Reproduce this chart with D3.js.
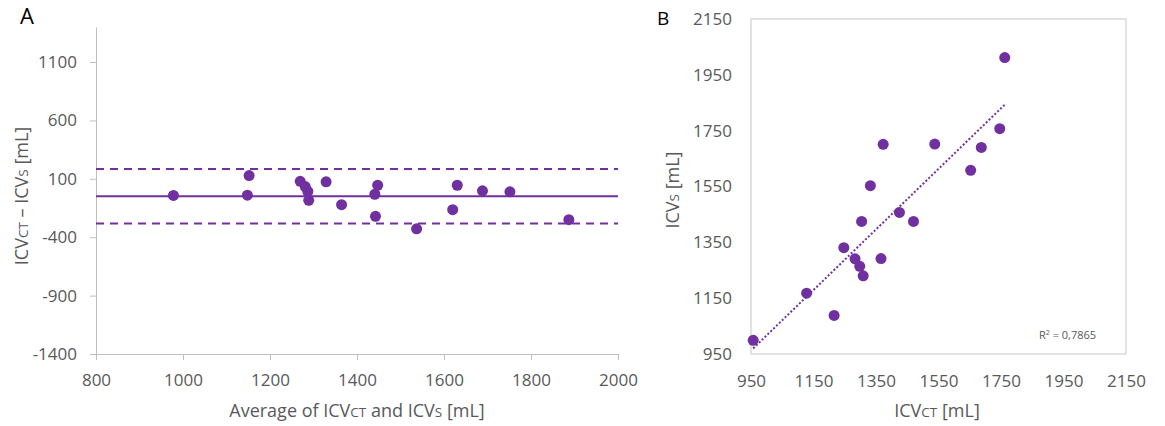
<!DOCTYPE html>
<html>
<head>
<meta charset="utf-8">
<script src="https://cdnjs.cloudflare.com/ajax/libs/d3/7.8.5/d3.min.js"></script>
<style>
  body { margin: 0; background: #fff; }
  svg text { font-family: "Open Sans", sans-serif; fill: #595959; }
  .axis path, .axis line { stroke: #bfbfbf; }
</style>
</head>
<body>
<div id="chart"></div>
<script>
// ICV per subject, CT method and S method (mL)
let ctVolume = [1762, 1746, 1687, 1653, 1538, 1373, 1332, 1425, 1304,
                1470, 1247, 1283, 1366, 1298, 1309, 1128, 1216, 957];
let sVolume  = [2012, 1757, 1690, 1608, 1702, 1701, 1553, 1457, 1425,
                1425, 1331, 1291, 1292, 1264, 1230, 1168, 1088, 999];

// Bland-Altman reference lines (mL)
let meanDiff = -49;
let upperLoA = 185;
let lowerLoA = -283;

// tick labels
let baXTicks = [800, 1000, 1200, 1400, 1600, 1800, 2000];
let baYTicks = [-1400, -900, -400, 100, 600, 1100];
let corrTicks = [950, 1150, 1350, 1550, 1750, 1950, 2150];
let rSquaredText = " = 0,7865";

let purple = "#7030A0";
let plain = d => String(d);

let svg = d3.select("#chart").append("svg")
    .attr("width", 1165)
    .attr("height", 426);

svg.append("rect").attr("width", 1165).attr("height", 426).attr("fill", "#fff");

// small-caps style title helper: parts = [[text, small?], ...]
function addTitle(sel, parts) {
    parts.forEach(p => {
        sel.append("tspan")
            .style("font-size", p[1] ? "13.5px" : "18px")
            .text(p[0]);
    });
}

//---------- Panel A : Bland-Altman ----------
let baData = ctVolume.map((c, i) => ({
    avg: (c + sVolume[i]) / 2,
    diff: c - sVolume[i]
}));

let xA = d3.scaleLinear().domain([800, 2000]).range([96, 618]);
let yA = d3.scaleLinear().domain([-1400, 1400]).range([354, 27]);

svg.append("g")
    .attr("class", "axis")
    .attr("transform", "translate(0,354)")
    .call(d3.axisBottom(xA).tickValues(baXTicks).tickFormat(plain)
        .tickSize(6).tickSizeOuter(0).tickPadding(14))
    .call(g => g.selectAll("text").style("font-size", "17px"));

svg.append("g")
    .attr("class", "axis")
    .attr("transform", "translate(96,0)")
    .call(d3.axisLeft(yA).tickValues(baYTicks).tickFormat(plain)
        .tickSize(6).tickSizeOuter(0).tickPadding(13))
    .call(g => g.selectAll("text").style("font-size", "17px"));

// mean and limits of agreement
svg.append("line")
    .attr("x1", xA(800)).attr("x2", xA(2000))
    .attr("y1", yA(meanDiff)).attr("y2", yA(meanDiff))
    .attr("stroke", purple).attr("stroke-width", 2);

[upperLoA, lowerLoA].forEach(v => {
    svg.append("line")
        .attr("x1", xA(800)).attr("x2", xA(2000))
        .attr("y1", yA(v)).attr("y2", yA(v))
        .attr("stroke", purple).attr("stroke-width", 2)
        .attr("stroke-dasharray", "8,6");
});

svg.append("g").selectAll("circle")
    .data(baData)
    .enter()
    .append("circle")
    .attr("cx", d => xA(d.avg))
    .attr("cy", d => yA(d.diff))
    .attr("r", 5.5)
    .attr("fill", purple);

// axis titles
let titleA = svg.append("text")
    .attr("x", 357).attr("y", 417)
    .attr("text-anchor", "middle");
addTitle(titleA, [["Average of ICV"], ["CT", 1], [" and ICV"], ["S", 1], [" [mL]"]]);

let yTitleA = svg.append("text")
    .attr("transform", "translate(28,196) rotate(-90)")
    .attr("text-anchor", "middle");
addTitle(yTitleA, [["ICV"], ["CT", 1], [" \u2013 ICV"], ["S", 1], [" [mL]"]]);

svg.append("text")
    .attr("x", 20).attr("y", 24)
    .style("font-size", "22px").style("fill", "#000")
    .text("A");

//---------- Panel B : correlation ----------
let xB = d3.scaleLinear().domain([950, 2150]).range([751, 1126]);
let yB = d3.scaleLinear().domain([950, 2150]).range([354, 19]);

svg.append("rect")
    .attr("x", 751).attr("y", 19)
    .attr("width", 375).attr("height", 335)
    .attr("fill", "none")
    .attr("stroke", "#d9d9d9")
    .attr("stroke-width", 1.5);

svg.append("g")
    .attr("class", "axis")
    .attr("transform", "translate(0,354)")
    .call(d3.axisBottom(xB).tickValues(corrTicks).tickFormat(plain).tickSize(0).tickPadding(21))
    .call(g => g.select(".domain").remove())
    .call(g => g.selectAll("text").style("font-size", "17px"));

svg.append("g")
    .attr("class", "axis")
    .attr("transform", "translate(751,0)")
    .call(d3.axisLeft(yB).tickValues(corrTicks).tickFormat(plain).tickSize(0).tickPadding(19))
    .call(g => g.select(".domain").remove())
    .call(g => g.selectAll("text").style("font-size", "17px"));

// linear trendline (least squares)
let mx = d3.mean(ctVolume), my = d3.mean(sVolume);
let sxy = d3.sum(ctVolume, (c, i) => (c - mx) * (sVolume[i] - my));
let sxx = d3.sum(ctVolume, c => (c - mx) * (c - mx));
let slope = sxy / sxx;
let intercept = my - slope * mx;
let xMin = d3.min(ctVolume), xMax = d3.max(ctVolume);

svg.append("line")
    .attr("x1", xB(xMin)).attr("y1", yB(intercept + slope * xMin))
    .attr("x2", xB(xMax)).attr("y2", yB(intercept + slope * xMax))
    .attr("stroke", purple).attr("stroke-width", 2)
    .attr("stroke-dasharray", "2,2");

svg.append("g").selectAll("circle")
    .data(ctVolume)
    .enter()
    .append("circle")
    .attr("cx", d => xB(d))
    .attr("cy", (d, i) => yB(sVolume[i]))
    .attr("r", 5.5)
    .attr("fill", purple);

let r2 = svg.append("text")
    .attr("x", 1039).attr("y", 339)
    .style("font-size", "11px");
r2.append("tspan").text("R");
r2.append("tspan").attr("dy", -4).style("font-size", "7px").text("2");
r2.append("tspan").attr("dy", 4).text(rSquaredText);

let xTitleB = svg.append("text")
    .attr("x", 937).attr("y", 417)
    .attr("text-anchor", "middle");
addTitle(xTitleB, [["ICV"], ["CT", 1], [" [mL]"]]);

let yTitleB = svg.append("text")
    .attr("transform", "translate(679,190) rotate(-90)")
    .attr("text-anchor", "middle");
addTitle(yTitleB, [["ICV"], ["S", 1], [" [mL]"]]);

svg.append("text")
    .attr("x", 657).attr("y", 25)
    .style("font-size", "19px").style("fill", "#000")
    .text("B");
</script>
</body>
</html>
